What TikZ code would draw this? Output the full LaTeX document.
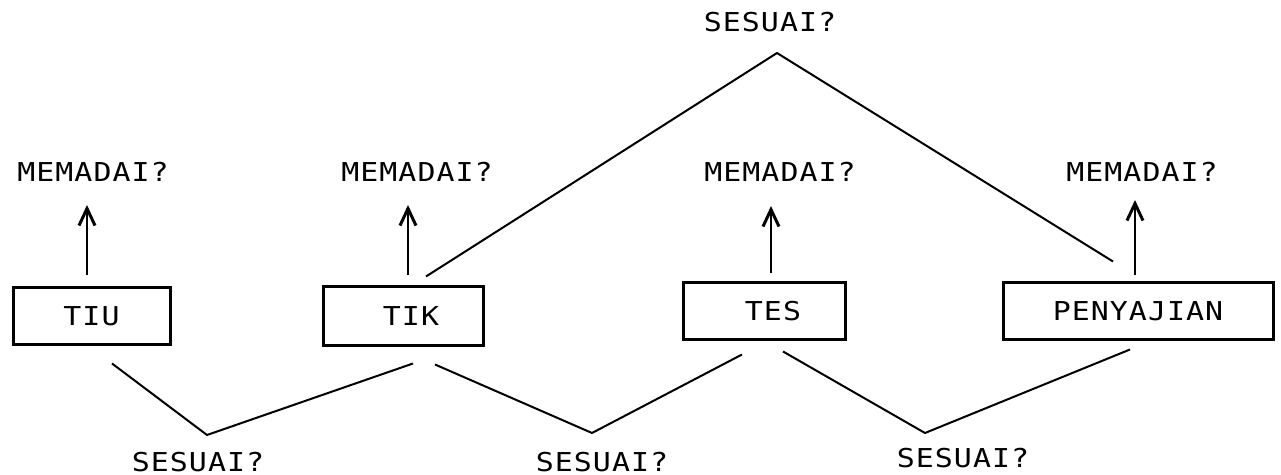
\documentclass[tikz,border=0pt]{standalone}
\usepackage{fontspec}
\usetikzlibrary{arrows.meta}
\newfontfamily\plotfont[FakeStretch=1.15,LetterSpace=4]{DejaVu Sans Mono}
\begin{document}
\begin{tikzpicture}[x=0.5pt,y=-0.5pt,
  lbl/.style={font=\plotfont\fontsize{13pt}{15pt}\selectfont, inner sep=0pt},
  stepbox/.style={draw, line width=1.5pt, inner sep=0pt,
    font=\plotfont\fontsize{13pt}{15pt}\selectfont, minimum height=28.5pt},
  up/.style={line width=1pt, -{Straight Barb[length=8.5pt,width=8pt,line width=1.5pt]}},
  link/.style={line width=1pt, line join=round}]
\useasboundingbox (0,0) rectangle (1281,475);

% boxes
\node[stepbox, minimum width=78.5pt] (tiu) at (91.5,316.5) {TIU};
\node[stepbox, minimum width=80pt, minimum height=29.5pt] (tik) at (403,316.5) {\kern8pt TIK};
\node[stepbox, minimum width=81pt] (tes) at (764,311.5) {\kern9pt TES};
\node[stepbox, minimum width=135pt] (pen) at (1138,311.5) {PENYAJIAN};

% question labels
\node[lbl] (m1) at (93,172) {MEMADAI?};
\node[lbl] (m2) at (417,172) {MEMADAI?};
\node[lbl] (m3) at (780,172) {MEMADAI?};
\node[lbl] (m4) at (1142,172) {MEMADAI?};
\node[lbl] (st) at (770,22) {SESUAI?};
\node[lbl] (s1) at (198,462) {SESUAI?};
\node[lbl] (s2) at (602,462) {SESUAI?};
\node[lbl] (s3) at (963,458) {SESUAI?};

% apex points of the joining lines
\coordinate (vt) at (777,53);
\coordinate (v1) at (207,435);
\coordinate (v2) at (592,433);
\coordinate (v3) at (925,433);

% upward arrows
\draw[up] ([shift={(-4.5,-11)}]tiu.north) -- ([shift={(-6,33)}]m1.center);
\draw[up] ([shift={(5,-10)}]tik.north) -- ([shift={(-9,33)}]m2.center);
\draw[up] ([shift={(7,-8)}]tes.north) -- ([shift={(-9,34)}]m3.center);
\draw[up] ([shift={(-3,-6)}]pen.north) -- ([shift={(-7,28)}]m4.center);

% joining lines
\draw[link] ([shift={(23,-9)}]tik.north) -- (vt) -- ([shift={(-25,-20)}]pen.north);
\draw[link] ([shift={(20.5,17)}]tiu.south) -- (v1) -- ([shift={(10,16)}]tik.south);
\draw[link] ([shift={(32,17)}]tik.south) -- (v2) -- ([shift={(-22,13)}]tes.south);
\draw[link] ([shift={(19,10)}]tes.south) -- (v3) -- ([shift={(-8,8)}]pen.south);
\end{tikzpicture}
\end{document}
